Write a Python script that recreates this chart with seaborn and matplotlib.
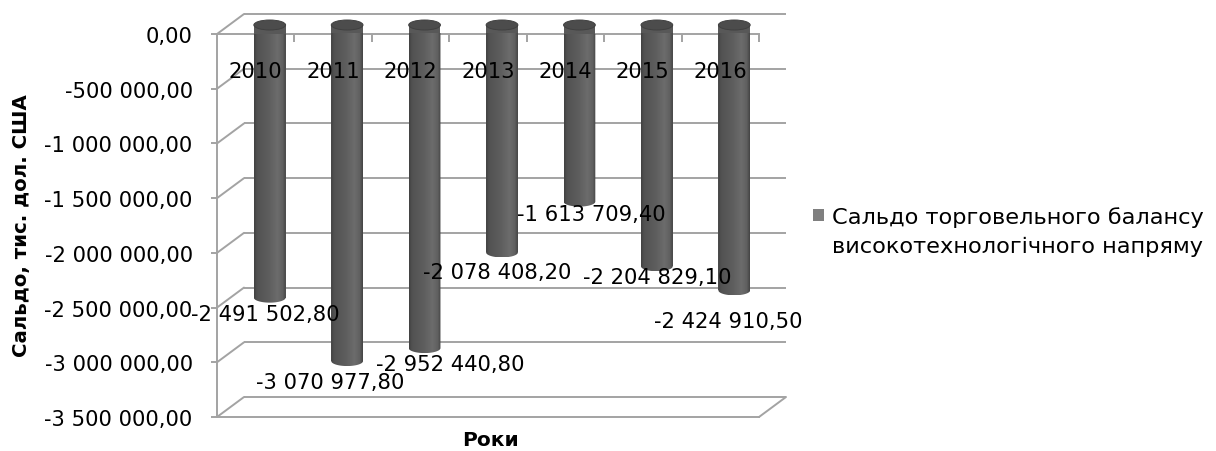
import numpy as np
import pandas as pd
import matplotlib
matplotlib.use("Agg")
import matplotlib.pyplot as plt
import seaborn as sns
from matplotlib import transforms
from matplotlib.patches import Ellipse, Patch, PathPatch, Rectangle
from matplotlib.path import Path
from matplotlib.ticker import FixedLocator
from matplotlib.colors import LinearSegmentedColormap
from matplotlib.legend_handler import HandlerPatch

years = ["2010", "2011", "2012", "2013", "2014", "2015", "2016"]
balance = [-2491502.80, -3070977.80, -2952440.80, -2078408.20,
           -1613709.40, -2204829.10, -2424910.50]
y_ticks = [0, -500000, -1000000, -1500000, -2000000, -2500000, -3000000, -3500000]
series_label = "Сальдо торговельного балансу\nвисокотехнологічного напряму"
x_title = "Роки"
y_title = "Сальдо, тис. дол. США"

# nudges (pixels) that move each value label off the end of its column
label_nudge = [(10, -7), (-3, -12), (40, -7), (9, -11), (26, -3), (14, -2), (8, -22)]


def ua_number(v):
    s = f"{abs(v):,.2f}".replace(",", " ").replace(".", ",")
    return ("-" if v < 0 else "") + s


sns.set_theme(style="white")
plt.rcParams["font.family"] = ["DejaVu Sans"]
plt.rcParams["text.color"] = "black"

W, H, DPI = 1216, 452, 100
fig = plt.figure(figsize=(W / DPI, H / DPI), dpi=DPI)
fig.patch.set_facecolor("white")
ax = fig.add_axes([217 / W, 1 - 418 / H, 542 / W, 383 / H])

GRID = "#a3a3a3"
LW = 1.4
FS = 15.2

df = pd.DataFrame({"year": years, "balance": balance})
sns.barplot(data=df, x="year", y="balance", color="#585858", saturation=1,
            width=0.41, ax=ax, zorder=2)

n = len(years)
xmin, xmax = -0.5, n - 0.5
ax.set_xlim(xmin, xmax)
ax.set_ylim(y_ticks[-1], y_ticks[0])
ax.set_axisbelow(False)

# depth offsets of the pseudo-3D box (pixels converted to inches)
back_dx, back_dy = 27, 20
back_tr = ax.transData + transforms.ScaledTranslation(back_dx / DPI, back_dy / DPI, fig.dpi_scale_trans)
cyl_tr = ax.transData + transforms.ScaledTranslation(14 / DPI, 9 / DPI, fig.dpi_scale_trans)

# back wall gridlines and side-wall diagonals
for t in y_ticks:
    ax.plot([xmin, xmax], [t, t], color=GRID, lw=LW, transform=back_tr,
            clip_on=False, zorder=1, solid_capstyle="butt")
    p0 = ax.transData.transform((xmin, t))
    ax.plot([p0[0], p0[0] + back_dx], [p0[1], p0[1] + back_dy], color=GRID, lw=LW,
            transform=transforms.IdentityTransform(), clip_on=False, zorder=1)
# right edge of the floor
p0 = ax.transData.transform((xmax, y_ticks[-1]))
ax.plot([p0[0], p0[0] + back_dx], [p0[1], p0[1] + back_dy], color=GRID, lw=LW,
        transform=transforms.IdentityTransform(), clip_on=False, zorder=1)

for side in ["left", "top", "bottom"]:
    ax.spines[side].set_visible(True)
    ax.spines[side].set_color(GRID)
    ax.spines[side].set_linewidth(LW)
    ax.spines[side].set_zorder(1.5)
ax.spines["right"].set_visible(False)

# cylinders: shaded body with rounded bottom and an elliptical cap
px_per_unit = 383 / (y_ticks[0] - y_ticks[-1])
cap_h = 10 / px_per_unit
cmap = LinearSegmentedColormap.from_list(
    "cyl", [(0.0, "#414141"), (0.1, "#525252"), (0.45, "#5d5d5d"),
            (0.74, "#6c6c6c"), (0.9, "#606060"), (1.0, "#434343")])
grad = np.linspace(0, 1, 256)[None, :]
theta = np.linspace(np.pi, 2 * np.pi, 48)
for p in list(ax.patches):
    x0, w = p.get_x(), p.get_width()
    top, bot = p.get_y(), p.get_y() + p.get_height()
    p.set_transform(cyl_tr)
    p.set_clip_on(False)
    p.set_edgecolor("none")
    arc = np.column_stack([x0 + w / 2 + w / 2 * np.cos(theta),
                           bot + cap_h / 2 * np.sin(theta)])
    verts = [(x0, top)] + arc.tolist() + [(x0 + w, top), (x0, top)]
    body = PathPatch(Path(verts), transform=cyl_tr, facecolor="none", edgecolor="none")
    im = ax.imshow(grad, cmap=cmap, extent=[x0, x0 + w, bot - cap_h / 2, top],
                   aspect="auto", transform=cyl_tr, zorder=2.1, interpolation="bilinear")
    im.set_clip_path(body)
    im.set_clip_box(None)
    ax.add_patch(Ellipse((x0 + w / 2, top), w, cap_h, transform=cyl_tr,
                         facecolor="#4c4c4c", edgecolor="#404040", lw=0.7,
                         zorder=2.3, clip_on=False))

ax.set_xlim(xmin, xmax)
ax.set_ylim(y_ticks[-1], y_ticks[0])

# axes ticks and labels
ax.set_yticks(y_ticks, labels=[ua_number(t) for t in y_ticks])
ax.tick_params(axis="y", left=True, length=4.5, width=LW, color=GRID, pad=13,
               labelsize=FS, labelcolor="black")
ax.set_xticks(range(n), labels=years)
ax.tick_params(axis="x", which="major", bottom=False, top=False, labelbottom=False,
               labeltop=True, length=0, pad=-34, labelsize=FS, labelcolor="black")
ax.xaxis.set_minor_locator(FixedLocator(np.arange(0.5, n, 1.0)))
ax.tick_params(axis="x", which="minor", bottom=False, top=True, direction="in",
               length=5.8, width=LW, color=GRID)

ax.set_xlabel(x_title, fontsize=14.5, fontweight="bold", color="black")
ax.xaxis.set_label_coords((490 - 217) / 542, (418 - 441) / 383)
ax.xaxis.label.set_va("center")
ax.set_ylabel(y_title, fontsize=14.2, fontweight="bold", color="black")
ax.yaxis.set_label_coords((22 - 217) / 542, (418 - 226) / 383)
ax.yaxis.label.set_va("center")

for i, (v, (dx, dy)) in enumerate(zip(balance, label_nudge)):
    ax.annotate(ua_number(v), xy=(i, v), xytext=(dx, dy), textcoords="offset pixels",
                ha="center", va="center", fontsize=FS, color="black", zorder=6,
                annotation_clip=False)


def first_line_swatch(legend, orig_handle, xdescent, ydescent, width, height, fontsize):
    # square key aligned with the first line of a two-line label
    return Rectangle((-xdescent, -ydescent + 11.5), width, height)


handle = Patch(facecolor="#7f7f7f", edgecolor="none")
leg = fig.legend([handle], [series_label], loc="center left",
                 bbox_to_anchor=(813 / W, 1 - 232 / H), frameon=False, fontsize=16.2,
                 handlelength=0.5, handleheight=0.5, handletextpad=0.35,
                 borderaxespad=0, borderpad=0,
                 handler_map={Patch: HandlerPatch(patch_func=first_line_swatch)})
for txt in leg.get_texts():
    txt.set_linespacing(1.55)
    txt.set_color("black")

fig.savefig("out.png", dpi=DPI, facecolor="white")
